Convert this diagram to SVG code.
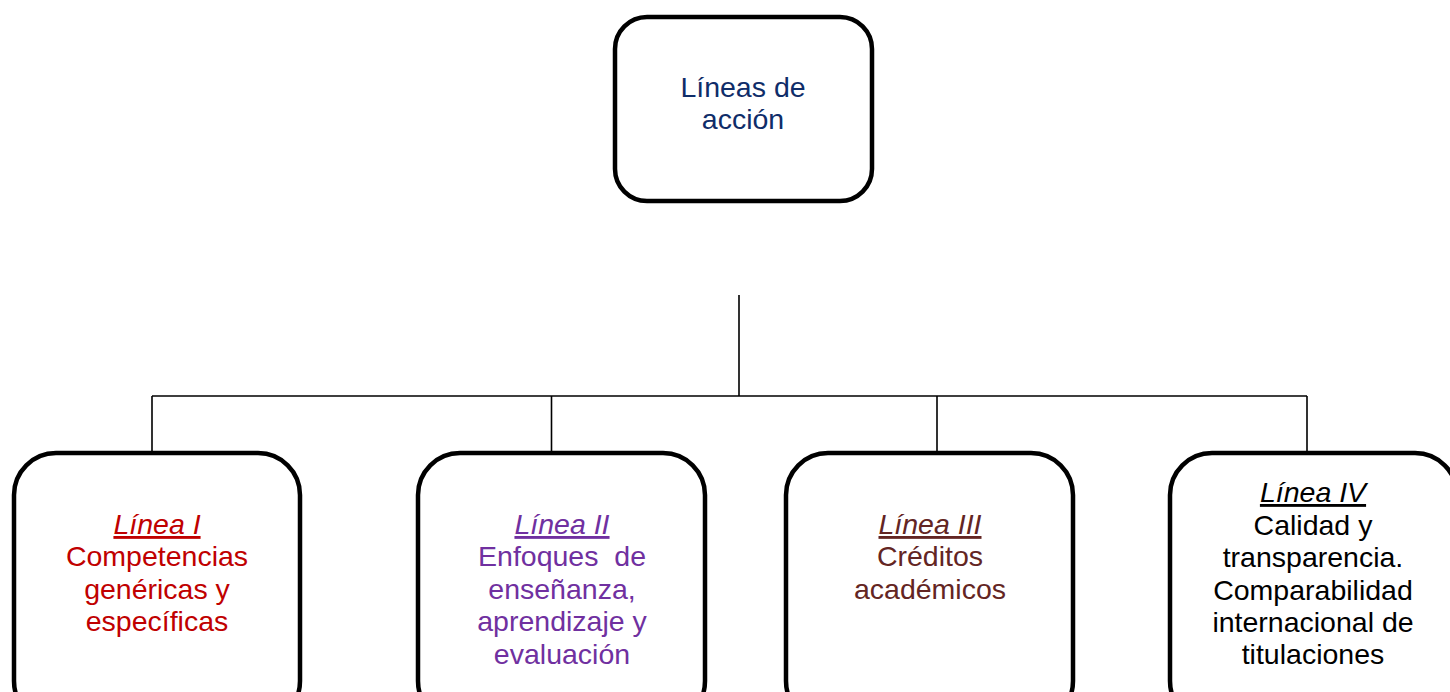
<svg xmlns="http://www.w3.org/2000/svg" width="1450" height="692" viewBox="0 0 1450 692">
<style>
.box{fill:#fff;stroke:#000;stroke-width:4.5}
.t{font-family:"Liberation Sans",Arial,sans-serif;font-size:28.5px;text-anchor:middle}
.h{font-style:italic;text-decoration:underline}
.conn{stroke:#000;stroke-width:1.6;fill:none}
</style>
<rect width="1450" height="692" fill="#fff"/>
<g id="connectors">
<path class="conn" d="M739 295V396M152 396H1307M152 396V453M551.5 396V453M937 396V453M1307 396V453"/>
</g>
<g id="root">
<rect class="box" x="615" y="17" width="257" height="184" rx="32"/>
<text class="t" fill="#0F2D69"><tspan x="743" y="97">Líneas de</tspan><tspan x="743" y="129">acción</tspan></text>
</g>
<g id="linea1">
<rect class="box" x="14" y="453" width="286" height="270" rx="42"/>
<text class="t" fill="#C00000"><tspan class="h" x="157" y="534">Línea I</tspan><tspan x="157" y="566">Competencias</tspan><tspan x="157" y="599">genéricas y</tspan><tspan x="157" y="631">específicas</tspan></text>
</g>
<g id="linea2">
<rect class="box" x="418" y="453" width="287" height="270" rx="42"/>
<text class="t" fill="#7030A0" xml:space="preserve"><tspan class="h" x="562" y="534">Línea II</tspan><tspan x="562" y="566">Enfoques  de</tspan><tspan x="562" y="599">enseñanza,</tspan><tspan x="562" y="631">aprendizaje y</tspan><tspan x="562" y="664">evaluación</tspan></text>
</g>
<g id="linea3">
<rect class="box" x="786" y="453" width="287" height="270" rx="42"/>
<text class="t" fill="#632523"><tspan class="h" x="930" y="534">Línea III</tspan><tspan x="930" y="566">Créditos</tspan><tspan x="930" y="599">académicos</tspan></text>
</g>
<g id="linea4">
<rect class="box" x="1170" y="453" width="287" height="270" rx="42"/>
<text class="t" fill="#000"><tspan class="h" x="1313" y="502">Línea IV</tspan><tspan x="1313" y="535">Calidad y</tspan><tspan x="1313" y="567">transparencia.</tspan><tspan x="1313" y="600">Comparabilidad</tspan><tspan x="1313" y="632">internacional de</tspan><tspan x="1313" y="664">titulaciones</tspan></text>
</g>
</svg>
